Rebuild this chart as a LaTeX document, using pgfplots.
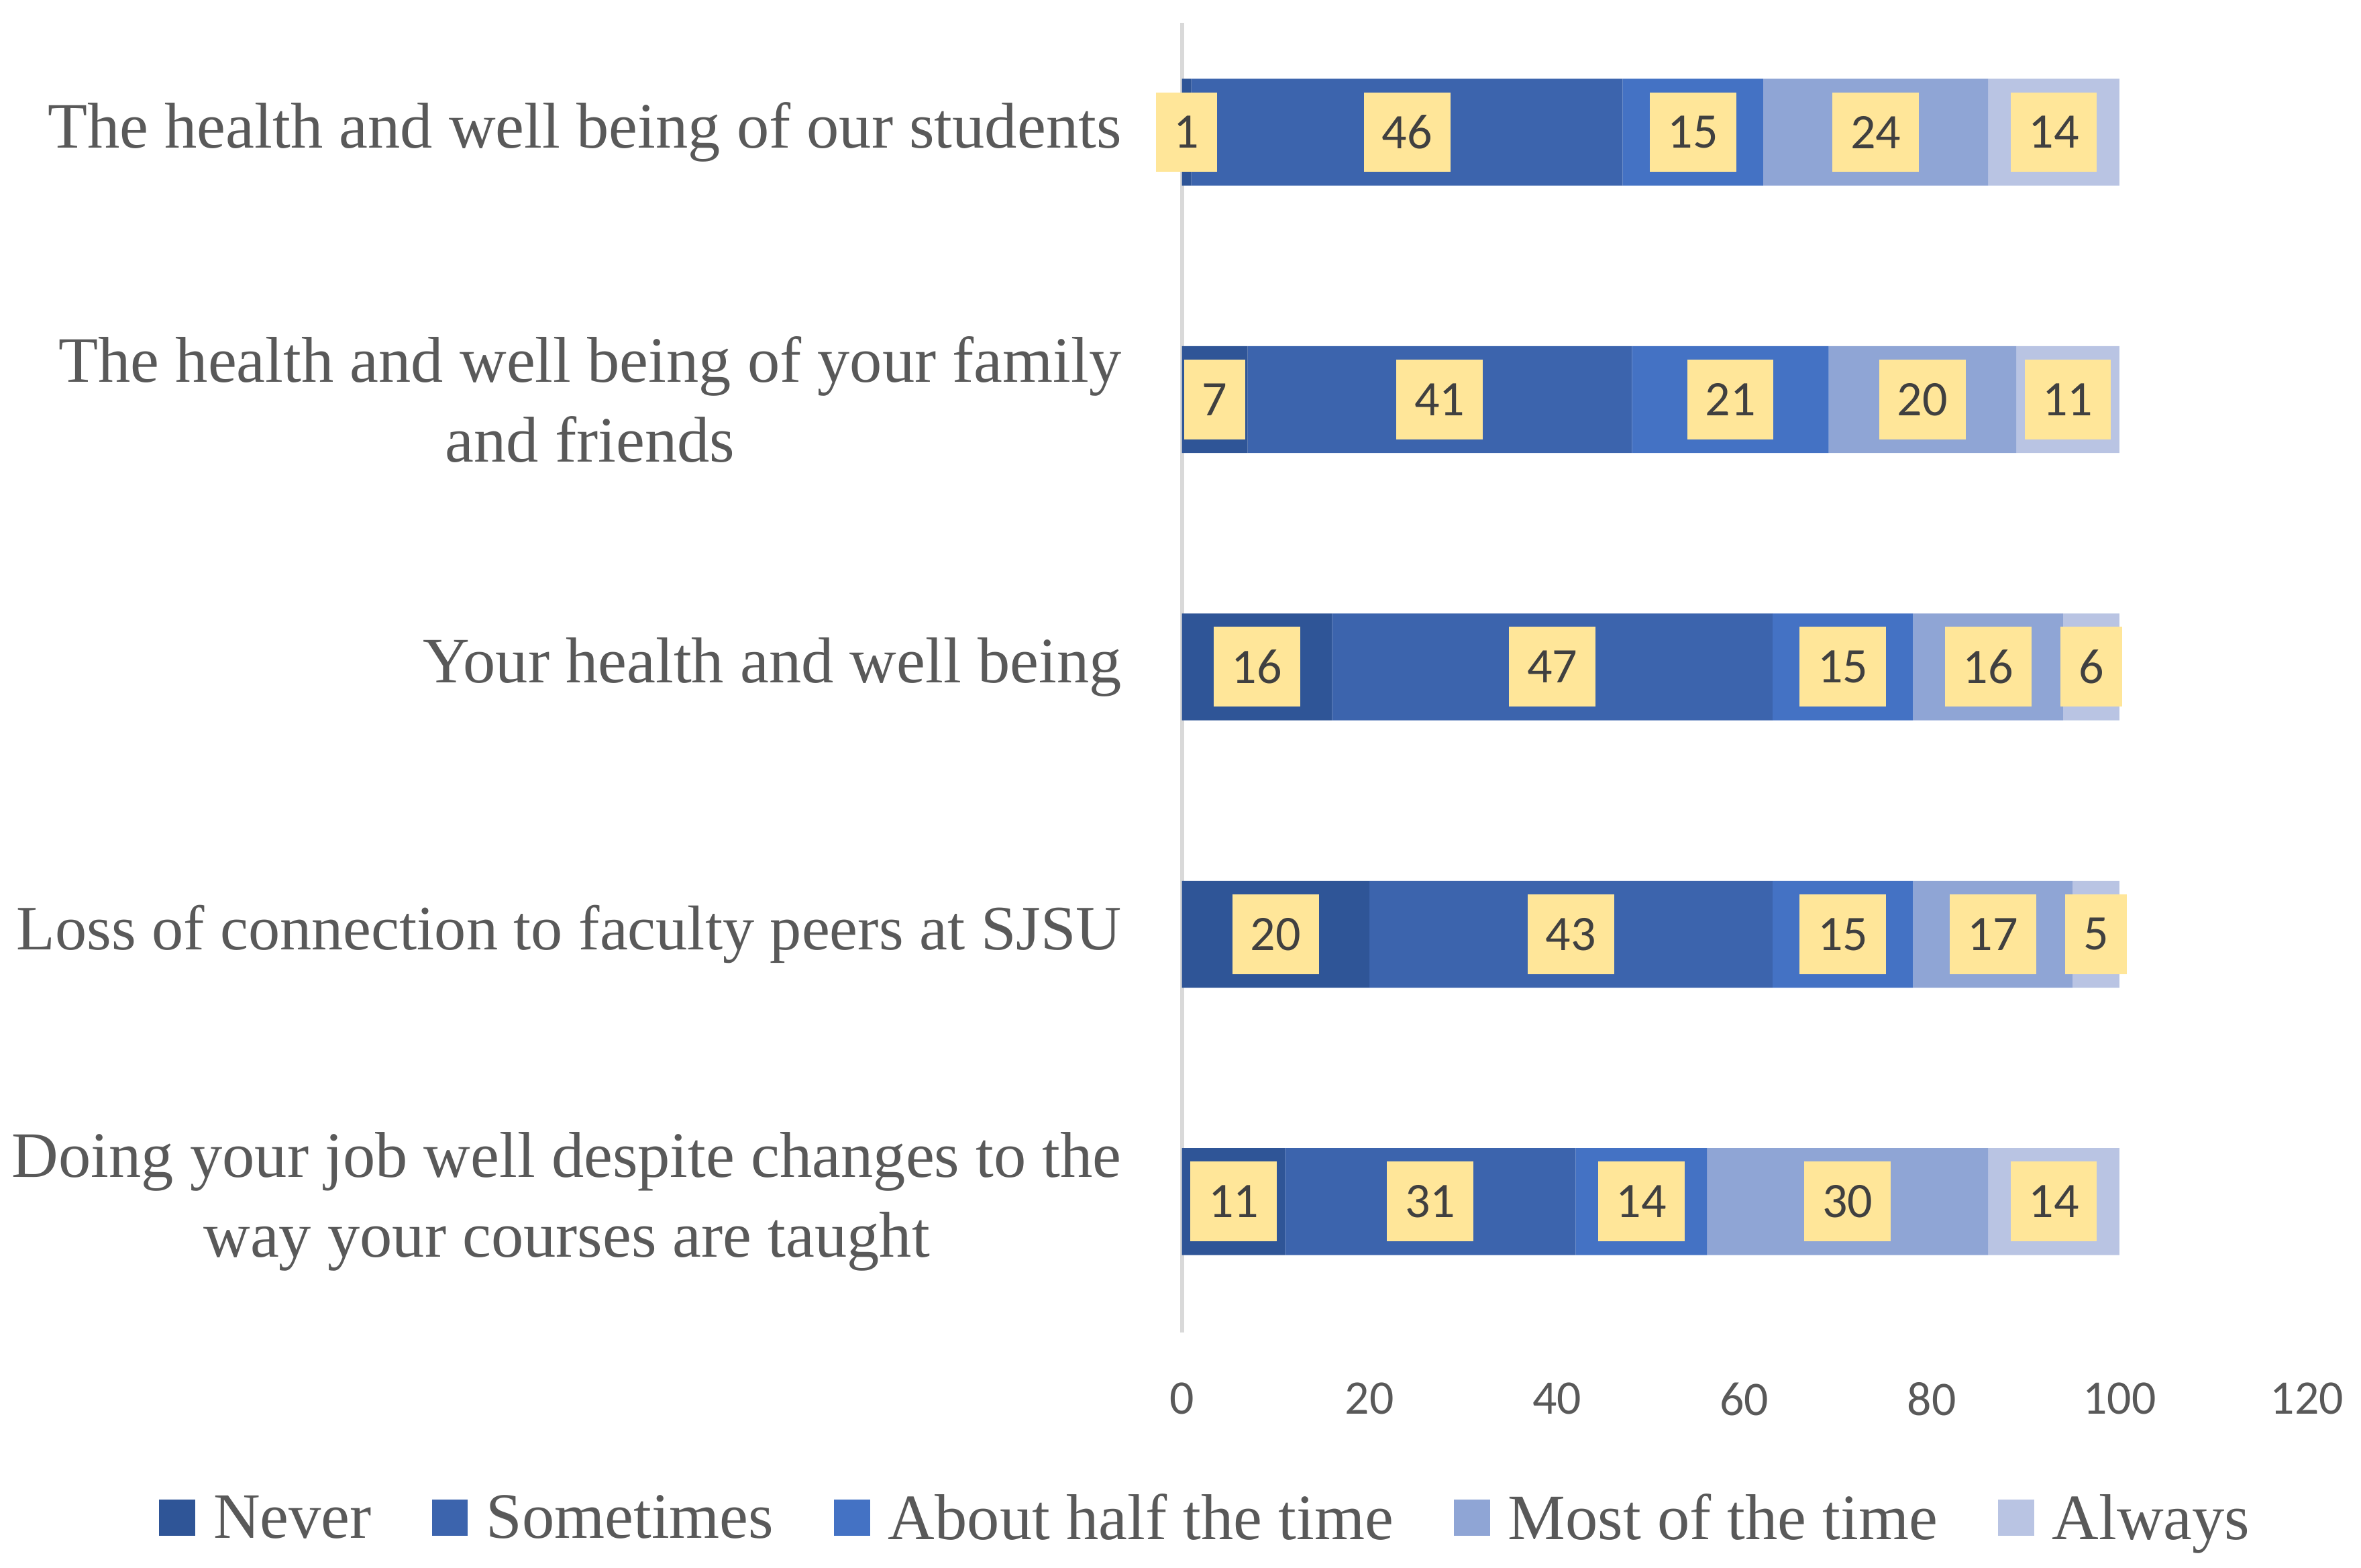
\documentclass[border=0pt]{standalone}
\usepackage{fontspec}
\setmainfont{Liberation Serif}
\newfontfamily\carlito{Carlito}
\usepackage{pgfplots}
\usepackage{pgfplotstable}
\pgfplotsset{compat=1.18}

\definecolor{cNever}{HTML}{2F5597}
\definecolor{cSome}{HTML}{3C64AD}
\definecolor{cHalf}{HTML}{4472C4}
\definecolor{cMost}{HTML}{8FA5D5}
\definecolor{cAlways}{HTML}{B9C4E3}
\definecolor{boxFill}{HTML}{FFE699}
\definecolor{boxText}{HTML}{404040}
\definecolor{txtGray}{HTML}{595959}
\definecolor{lineGray}{HTML}{D9D9D9}

% one row per statement, 0 = bottom bar
\pgfplotstableread{
idx Never Sometimes Half Most Always
0 11 31 14 30 14
1 20 43 15 17 5
2 16 47 15 16 6
3 7 41 21 20 11
4 1 46 15 24 14
}\data

\pgfplotsset{
  base/.style={
    scale only axis, width=747bp, height=870bp,
    xmin=0, xmax=120, ymin=-0.49, ymax=4.41,
    enlargelimits=false,
    /pgf/number format/assume math mode=true,
    at={(0,0)}, anchor=south west,
  },
  legsq/.style={legend image code/.code={\fill[##1] (0bp,-12bp) rectangle (24bp,12bp);}},
  lab/.style={only marks, mark=*, mark options={draw=none, fill=none},
    point meta=explicit, nodes near coords, forget plot},
}

\begin{document}
\begin{tikzpicture}
\begin{axis}[base,
  xbar stacked, bar width=71bp,
  axis line style={draw=none},
  major tick length=0pt,
  xtick={0,20,...,120},
  extra x ticks={0}, extra x tick labels={},
  extra x tick style={grid=major, major grid style={draw=lineGray, line width=2.5bp}},
  ytick={0,...,4},
  yticklabels={
    {Doing your job well despite changes to the\\way your courses are taught},
    {\fontsize{42bp}{53bp}\selectfont Loss of connection to faculty peers at SJSU},
    {Your health and well being},
    {The health and well being of your family\\and friends},
    {The health and well being of our students}},
  yticklabel style={align=center, anchor=east, inner sep=0pt, xshift=-40bp,
    text=txtGray, font=\fontsize{43bp}{53bp}\selectfont},
  xticklabel style={anchor=north, inner sep=0pt, yshift=-33bp,
    text=txtGray, font=\carlito\fontsize{32bp}{32bp}\selectfont},
  legend columns=5,
  legend style={at={(0.0201,-0.1414)}, anchor=center, draw=none, fill=none,
    text=txtGray, font=\fontsize{43bp}{53bp}\selectfont, inner sep=0pt,
    nodes={inner sep=0pt},
    /tikz/every odd column/.append style={column sep=12bp},
    /tikz/every even column/.append style={column sep=40bp}},
]
\addplot[legsq, fill=cNever, draw=none] table[x=Never, y=idx] {\data};
\addplot[legsq, fill=cSome, draw=none] table[x=Sometimes, y=idx] {\data};
\addplot[legsq, fill=cHalf, draw=none] table[x=Half, y=idx] {\data};
\addplot[legsq, fill=cMost, draw=none] table[x=Most, y=idx] {\data};
\addplot[legsq, fill=cAlways, draw=none] table[x=Always, y=idx] {\data};
\legend{Never, Sometimes, About half the time, Most of the time, Always}
\end{axis}

% value labels, drawn above every bar
\begin{axis}[base, hide axis, clip=false,
  every node near coord/.append style={anchor=center, fill=boxFill, text=boxText,
    font=\carlito\fontsize{33bp}{33bp}\selectfont,
    inner xsep=12bp, inner ysep=0pt, minimum height=53bp},
]
\addplot[lab] table[x expr=\thisrow{Never}/2, y=idx, meta=Never] {\data};
\addplot[lab] table[x expr=\thisrow{Never}+\thisrow{Sometimes}/2, y=idx, meta=Sometimes] {\data};
\addplot[lab] table[x expr=\thisrow{Never}+\thisrow{Sometimes}+\thisrow{Half}/2, y=idx, meta=Half] {\data};
\addplot[lab] table[x expr=\thisrow{Never}+\thisrow{Sometimes}+\thisrow{Half}+\thisrow{Most}/2, y=idx, meta=Most] {\data};
\addplot[lab] table[x expr=100-\thisrow{Always}/2, y=idx, meta=Always] {\data};
\end{axis}

\pgfresetboundingbox
\path[use as bounding box] (-785bp,-156bp) rectangle (783bp,885bp);
\end{tikzpicture}
\end{document}
